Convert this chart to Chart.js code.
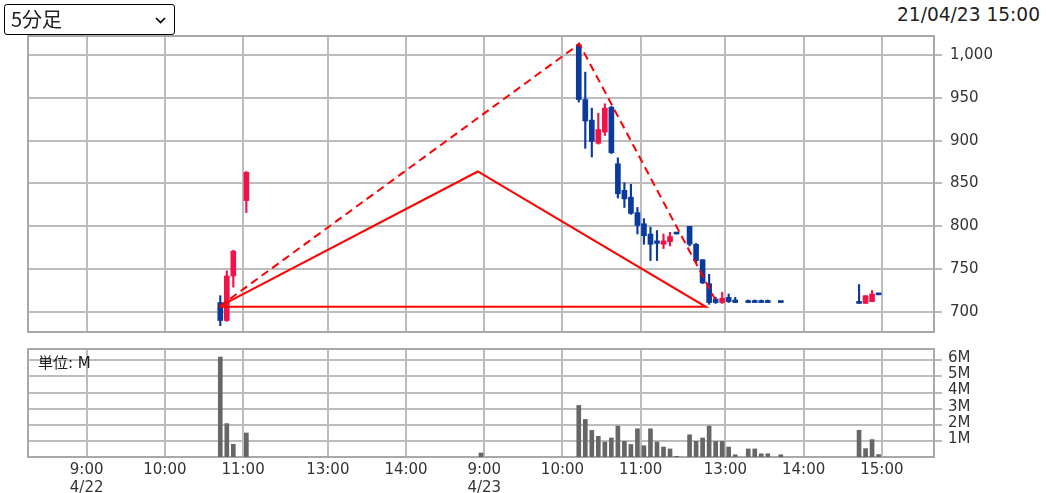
<!DOCTYPE html>
<html lang="ja">
<head>
<meta charset="utf-8">
<title>5分足</title>
<script src="https://cdn.jsdelivr.net/npm/chart.js@4.4.1/dist/chart.umd.min.js"></script>
<style>
  body { margin: 0; background: #fff; }
  #wrap { position: relative; width: 1046px; height: 493px; overflow: hidden; font-family: "DejaVu Sans", "Noto Sans CJK JP", sans-serif; color: #222; }
  #period { position: absolute; left: 4px; top: 4px; width: 171px; height: 31px; box-sizing: border-box; border: 1px solid #000; border-radius: 3px; font: 20px "Noto Sans CJK JP", sans-serif; line-height: 28px; padding-left: 6px; }
  #period svg { position: absolute; right: 8px; top: 12px; }
  #stamp { position: absolute; right: 6px; top: 4px; font-size: 18.6px; }
  #unit { position: absolute; left: 38px; top: 351px; font-size: 15px; }
  canvas { position: absolute; left: 0; }
  #main { top: 30px; }
  #vol { top: 340px; }
</style>
</head>
<body>
<div id="wrap">
  <canvas id="main" width="1046" height="310"></canvas>
  <canvas id="vol" width="1046" height="153"></canvas>
  <div id="period">5分足<svg width="11" height="7" viewBox="0 0 11 7"><path d="M1 1 L5.5 5.5 L10 1" fill="none" stroke="#000" stroke-width="1.7"/></svg></div>
  <div id="stamp">21/04/23 15:00</div>
  <div id="unit">単位: M</div>
</div>
<script>
// 5-minute bars, 4/22 - 4/23
const days = ['4/22', '4/23'];
const times = [
  '4/22 10:40', '4/22 10:45', '4/22 10:50', '4/22 11:00',
  '4/22 14:55',
  '4/23 10:10', '4/23 10:15', '4/23 10:20', '4/23 10:25', '4/23 10:30', '4/23 10:35', '4/23 10:40', '4/23 10:45',
  '4/23 10:50', '4/23 10:55', '4/23 11:00', '4/23 11:05', '4/23 11:10', '4/23 11:15', '4/23 11:20', '4/23 11:25',
  '4/23 12:30', '4/23 12:35', '4/23 12:40', '4/23 12:45', '4/23 12:50', '4/23 12:55', '4/23 13:00', '4/23 13:05',
  '4/23 13:15', '4/23 13:20', '4/23 13:25', '4/23 13:30', '4/23 13:40',
  '4/23 14:40', '4/23 14:45', '4/23 14:50', '4/23 14:55'
];
const opens = [711, 690, 742, 830, null,
  1012, 948, 924, 897, 910, 939, 873, 842, 834, 816, 803, 791, 783, 779, 782, 791,
  800, 779, 761, 733, 715, 711, 717, 714, 711, 711, 711, 711, 711, 710, 710, 712, 720];
const highs = [719, 748, 772, 864, null,
  1014, 980, 938, 932, 943, 940, 880, 851, 849, 822, 809, 799, 795, 791, 793, 791,
  800, 780, 761, 744, 717, 723, 721, 717, 714, 714, 714, 714, 711, 732, 719, 725, 720];
const lows = [684, 689, 729, 816, null,
  945, 891, 881, 896, 906, 885, 833, 822, 814, 791, 779, 760, 760, 774, 777, 791,
  777, 757, 733, 709, 710, 710, 711, 711, 711, 711, 711, 711, 711, 710, 710, 712, 720];
const closes = [690, 742, 771, 863, null,
  948, 923, 899, 913, 938, 886, 838, 832, 815, 801, 789, 779, 780, 783, 788, 791,
  779, 760, 734, 711, 711, 716, 712, 711, 711, 711, 711, 711, 711, 710, 719, 721, 720];
const volumes = [6.2, 2.07, 0.79, 1.49,
  0.25,
  3.2, 2.33, 1.65, 1.28, 0.93, 1.18, 1.92, 0.97, 0.78, 1.75, 0.7, 1.75, 0.93, 0.62, 0.5, 0.04,
  1.38, 0.97, 1.18, 1.92, 0.97, 0.97, 0.62, 0.14,
  0.5, 0.5, 0.2, 0.2, 0.14,
  1.66, 0.52, 1.08, 0.15];

const tickTimes = ['4/22 9:00', '4/22 10:00', '4/22 11:00', '4/22 13:00', '4/22 14:00',
  '4/23 9:00', '4/23 10:00', '4/23 11:00', '4/23 13:00', '4/23 14:00', '4/23 15:00'];
const tickLabels = [['9:00', '4/22'], '10:00', '11:00', '13:00', '14:00',
  ['9:00', '4/23'], '10:00', '11:00', '13:00', '14:00', '15:00'];
const priceTicks = [700, 750, 800, 850, 900, 950, 1000];
const volumeTicks = [1, 2, 3, 4, 5, 6];

// drawn trend lines [time, price]
const solidLine = [['4/22 10:42', 706.5], ['4/22 14:55', 864], ['4/23 12:45', 706], ['4/22 10:42', 706]];
const dashedLine = [['4/22 10:42', 706.5], ['4/23 10:13', 1013], ['4/23 12:52', 715]];

// trading-slot index: morning 9:00-11:30, afternoon 12:30-15:00, lunch removed
function slot(t) {
  const [d, hm] = t.split(' ');
  const [h, m] = hm.split(':').map(Number);
  const min = h * 60 + m;
  const s = min <= 690 ? (min - 540) / 5 : (min - 750) / 5 + 31;
  return days.indexOf(d) * 61 + s;
}
// bars sit in the middle of their 5-minute slot
const barX = t => slot(t) + 0.5;

const UP = '#f2124a';
const DOWN = '#0a3a9c';
const GRID = '#bcbcbc';

Chart.defaults.font.family = '"DejaVu Sans", sans-serif';
Chart.defaults.font.size = 15;
Chart.defaults.color = '#333';
Chart.defaults.animation = false;

const frame = {
  id: 'frame',
  beforeDatasetsDraw(chart) {
    const a = chart.chartArea, ctx = chart.ctx;
    ctx.save();
    ctx.strokeStyle = '#a8a8a8';
    ctx.lineWidth = 2;
    ctx.strokeRect(a.left, a.top, a.right - a.left, a.bottom - a.top);
    ctx.restore();
  }
};

const xTicks = tickTimes.map(slot);
function xAxis(showLabels) {
  return {
    type: 'linear', min: -9, max: 130, offset: false,
    grid: { color: GRID, lineWidth: 2, drawTicks: false, offset: false },
    border: { display: false },
    afterBuildTicks: s => { s.ticks = xTicks.map(v => ({ value: v })); },
    ticks: { display: showLabels, autoSkip: false, maxRotation: 0, padding: 4,
      callback: (v, i) => tickLabels[i] },
    afterFit: s => { s.height = showLabels ? 36 : 0; s.paddingLeft = 0; s.paddingRight = 0; }
  };
}
function yAxis(min, max, values, fmt, extra) {
  return {
    position: 'right', min, max,
    grid: { color: GRID, lineWidth: 2, tickLength: 8 },
    border: { display: false },
    afterBuildTicks: s => { s.ticks = values.map(v => ({ value: v })); },
    ticks: Object.assign({ padding: 8, autoSkip: false, callback: fmt }, extra),
    afterFit: s => { s.width = 112; s.paddingTop = 0; s.paddingBottom = 0; }
  };
}

const candles = times.map((t, i) => ({ x: barX(t), o: opens[i], h: highs[i], l: lows[i], c: closes[i] }))
  .filter(k => k.o !== null);
const candleColor = candles.map(k => (k.c > k.o ? UP : DOWN));

new Chart(document.getElementById('main'), {
  type: 'bar',
  data: {
    datasets: [
      { type: 'line', data: solidLine.map(([t, v]) => ({ x: slot(t), y: v })), borderColor: '#ff0000',
        borderWidth: 2, pointRadius: 0, fill: false, tension: 0, order: 0 },
      { type: 'line', data: dashedLine.map(([t, v]) => ({ x: slot(t), y: v })), borderColor: '#ff0000',
        borderWidth: 2, borderDash: [8, 5], pointRadius: 0, fill: false, tension: 0, order: 0 },
      { data: candles.map(k => ({ x: k.x, y: [k.o, k.c] })), backgroundColor: candleColor,
        barThickness: 5, minBarLength: 2, grouped: false, order: 1 },
      { data: candles.map(k => ({ x: k.x, y: [k.l, k.h] })), backgroundColor: candleColor,
        barThickness: 1.5, grouped: false, order: 2 }
    ]
  },
  options: {
    responsive: false,
    layout: { padding: { left: 28, right: 0, top: 6, bottom: 8 } },
    plugins: { legend: { display: false }, tooltip: { enabled: false } },
    scales: {
      x: xAxis(false),
      y: yAxis(676.6, 1022.2, priceTicks, v => v.toLocaleString('en-US'))
    }
  },
  plugins: [frame]
});

new Chart(document.getElementById('vol'), {
  type: 'bar',
  data: {
    datasets: [
      { data: times.map((t, i) => ({ x: barX(t), y: volumes[i] })), backgroundColor: '#666',
        barThickness: 4, grouped: false }
    ]
  },
  options: {
    responsive: false,
    layout: { padding: { left: 28, right: 0, top: 9, bottom: 0 } },
    plugins: { legend: { display: false }, tooltip: { enabled: false } },
    scales: {
      x: xAxis(true),
      y: yAxis(0, 6.7, volumeTicks, v => v + 'M', { padding: 6, labelOffset: -2 })
    }
  },
  plugins: [frame]
});
</script>
</body>
</html>
